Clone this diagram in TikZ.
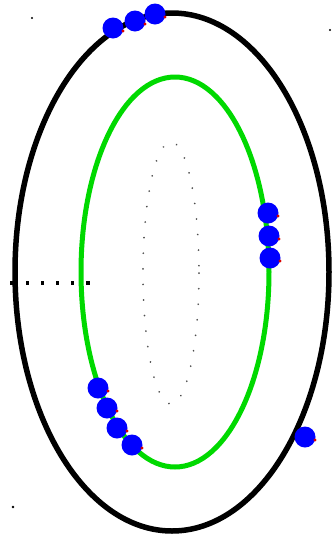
\documentclass[tikz,border=0pt]{standalone}
\begin{document}
\begin{tikzpicture}[x=1pt,y=-1pt,
  bead/.style={fill=blue},
  tick/.style={fill=red!85!black},
  speck/.style={fill=black}]
\useasboundingbox (0,0) rectangle (334,539);
\fill[white] (0,0) rectangle (334,539);
% ellipses
\draw[line width=5.5pt,black] (172,272) ellipse [x radius=157, y radius=259];
\draw[line width=5pt,green!85!black] (175,272) ellipse [x radius=94, y radius=195];
\draw[line width=1.8pt,black!70,line cap=round,dash pattern=on 0.1pt off 15.5pt] (171,273) ellipse [x radius=28, y radius=131];
% dotted line
\foreach \i in {0,...,5} \fill (12+15.2*\i-1.6,283-1.6) rectangle ++(3.2,3.2);
% specks
\fill[speck] (32,18) circle (1.2);
\fill[speck] (330,30) circle (1.2);
\fill[speck] (13,507) circle (1.3);
% beads
\foreach \p in {(113,28),(135,21),(155,14),(268,213),(269,236),(270,258),(98,388),(107,408),(117,428),(132,445),(305,437)}{
  \fill[bead] \p circle (10.5);
  \fill[tick] \p ++(10,3) circle (1.6);
}
\end{tikzpicture}
\end{document}
